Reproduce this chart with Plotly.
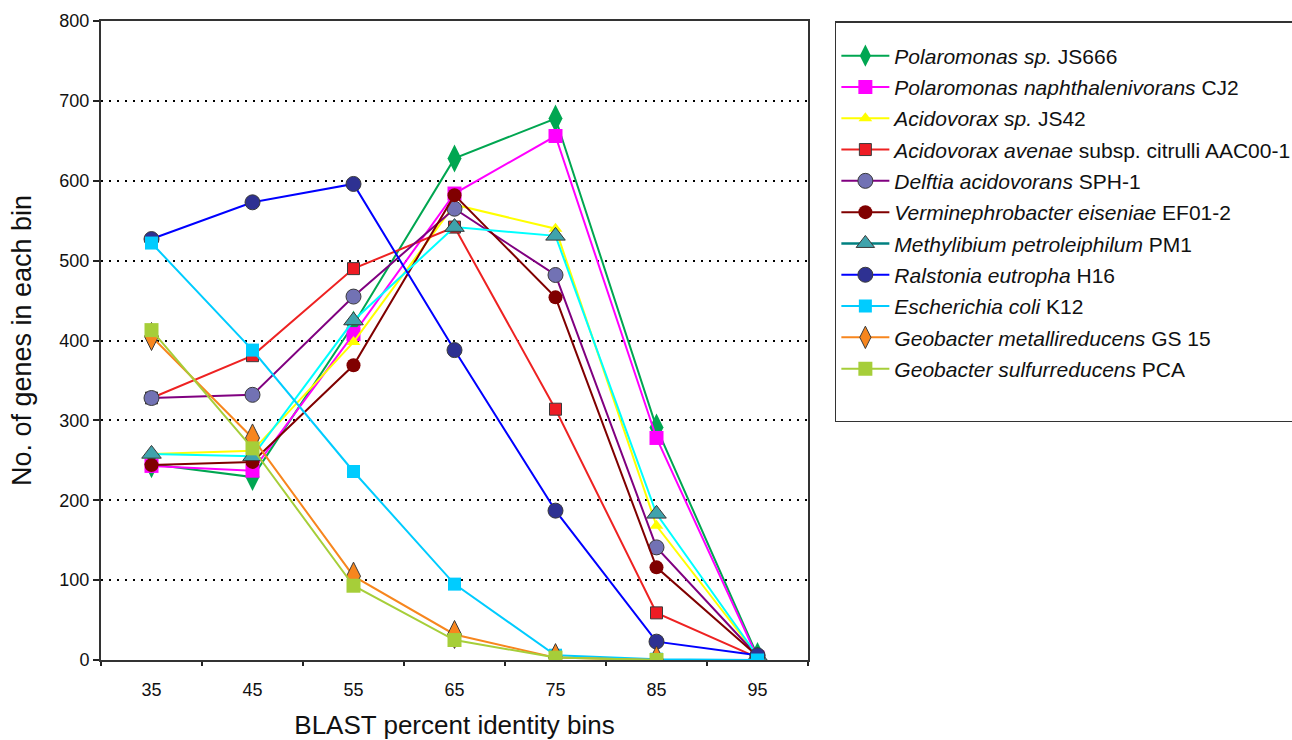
import plotly.graph_objects as go

bins = ["35", "45", "55", "65", "75", "85", "95"]

names = [
    "<i>Polaromonas sp.</i> JS666",
    "<i>Polaromonas naphthalenivorans</i> CJ2",
    "<i>Acidovorax sp.</i> JS42",
    "<i>Acidovorax avenae</i> subsp. citrulli AAC00-1",
    "<i>Delftia acidovorans</i> SPH-1",
    "<i>Verminephrobacter eiseniae</i> EF01-2",
    "<i>Methylibium petroleiphilum</i> PM1",
    "<i>Ralstonia eutropha</i> H16",
    "<i>Escherichia coli</i> K12",
    "<i>Geobacter metallireducens</i> GS 15",
    "<i>Geobacter sulfurreducens</i> PCA",
]

polaromonas_js666 = [245, 229, 420, 628, 678, 291, 5]
polaromonas_cj2 = [243, 237, 408, 584, 656, 278, 3]
acidovorax_js42 = [258, 262, 398, 570, 540, 168, 5]
acidovorax_avenae = [328, 381, 490, 542, 314, 59, 3]
delftia = [328, 332, 455, 565, 482, 141, 5]
verminephrobacter = [244, 248, 369, 582, 454, 116, 5]
methylibium = [258, 255, 425, 542, 531, 183, 5]
ralstonia = [527, 573, 596, 388, 187, 23, 6]
ecoli = [522, 388, 236, 95, 6, 1, 0]
geobacter_metal = [405, 278, 105, 32, 3, 0, None]
geobacter_sulf = [413, 265, 93, 25, 3, 0, None]

series = [polaromonas_js666, polaromonas_cj2, acidovorax_js42, acidovorax_avenae,
          delftia, verminephrobacter, methylibium, ralstonia, ecoli,
          geobacter_metal, geobacter_sulf]

# style: (line colour, marker colour, symbol, size, outline?, legend line colour)
styles = [
    ("#00A651", "#00A651", "diamond-tall", 20, False, None),
    ("#FF00FF", "#FF00FF", "square", 14, False, None),
    ("#FFFF00", "#FFFF00", "triangle-up", 12, False, None),
    ("#EE2222", "#EE1C24", "square", 12, True, None),
    ("#800080", "#7272B4", "circle", 15, True, None),
    ("#800000", "#800000", "circle", 14, False, None),
    ("#00FFFF", "#3FA3AC", "triangle-up", 17, True, "#008080"),
    ("#0000FF", "#2E3192", "circle", 15, True, None),
    ("#00CCFF", "#00CCFF", "square", 13, False, None),
    ("#F7861E", "#F7861E", "diamond-tall", 20, True, None),
    ("#A6CE39", "#A6CE39", "square", 14, False, None),
]

fig = go.Figure()
for i, (nm, vals, st) in enumerate(zip(names, series, styles)):
    lc, mc, sym, sz, outl, leg_lc = st
    mline = dict(color="#3a3a3a", width=1) if outl else dict(width=0)
    grp = "g%d" % i
    if leg_lc:
        fig.add_trace(go.Scatter(
            x=[None], y=[None], name=nm, mode="lines+markers", legendgroup=grp,
            line=dict(color=leg_lc, width=2.5),
            marker=dict(color=mc, symbol=sym, size=sz, line=mline)))
    fig.add_trace(go.Scatter(
        x=bins, y=vals, name=nm, mode="lines+markers", legendgroup=grp,
        showlegend=not bool(leg_lc), connectgaps=False,
        line=dict(color=lc, width=2),
        marker=dict(color=mc, symbol=sym, size=sz, line=mline)))

# blank spacer row at the bottom of the legend box
fig.add_trace(go.Scatter(x=[None], y=[None], name=" ", mode="lines",
                         legendgroup="spacer", line=dict(width=0, color="white"),
                         hoverinfo="skip"))

fig.update_layout(
    width=1292, height=740,
    margin=dict(l=101, r=484, t=21, b=80, autoexpand=False),
    paper_bgcolor="white", plot_bgcolor="white",
    font=dict(family="Liberation Sans, Arial, sans-serif", size=18, color="#111"),
    showlegend=True,
    legend=dict(
        x=1.038, xanchor="left", y=1.0, yanchor="top",
        bordercolor="#333", borderwidth=1.5, bgcolor="white",
        font=dict(size=21, color="#111"),
        traceorder="grouped", tracegroupgap=1, itemwidth=48,
        title=dict(text=" ", font=dict(size=10)),
    ),
    xaxis=dict(
        type="category", range=[-0.5, 6.5], tickson="boundaries",
        ticks="outside", ticklen=4, tickwidth=2, tickcolor="#222",
        showline=True, linecolor="#333", linewidth=2, mirror=True,
        showgrid=False, zeroline=False,
        tickfont=dict(size=18), ticklabelstandoff=12,
        title=dict(text="BLAST percent identity bins", font=dict(size=26), standoff=20),
    ),
    yaxis=dict(
        range=[0, 800], dtick=100, tick0=0,
        ticks="outside", ticklen=6, tickwidth=1.5, tickcolor="#222",
        showline=True, linecolor="#333", linewidth=2, mirror=True,
        showgrid=True, gridcolor="#000", gridwidth=1.5, griddash="2px,6px",
        zeroline=False,
        tickfont=dict(size=18),
        title=dict(text="No. of genes in each bin", font=dict(size=27), standoff=20),
    ),
)

fig.write_html("out.html", config={"displayModeBar": False},
               post_script="document.body.style.margin='0';")
